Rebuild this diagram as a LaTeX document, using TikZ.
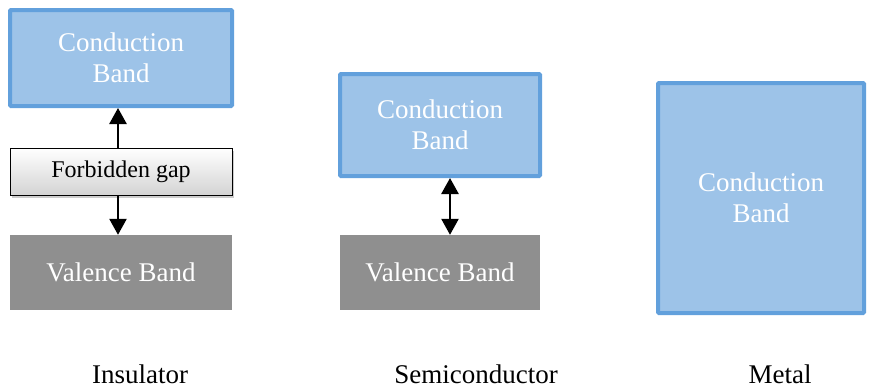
\documentclass[tikz,border=0pt]{standalone}
\usepackage{fontspec}
\setmainfont{Liberation Serif}
\usetikzlibrary{arrows.meta,shadows}
\definecolor{bandblue}{RGB}{157,195,232}
\definecolor{bandedge}{RGB}{98,160,220}
\definecolor{valgray}{RGB}{143,143,143}
\tikzset{
  cband/.style={draw=bandedge, line width=4pt, fill=bandblue, rounded corners=1pt,
    text=white, align=center, font=\fontsize{27}{31}\selectfont},
  vband/.style={fill=valgray, text=white, font=\fontsize{27}{31}\selectfont},
  gapbox/.style={draw=black, line width=1pt, top color=white, bottom color=black!17,
    drop shadow={shadow xshift=2pt, shadow yshift=-3pt, opacity=0.4},
    font=\fontsize{24}{28}\selectfont},
  gaparrow/.style={line width=2.5pt, -{Triangle[length=16pt,width=17pt]}},
  dblarrow/.style={line width=2.5pt, {Triangle[length=16pt,width=17pt]}-{Triangle[length=16pt,width=17pt]}},
  caption/.style={font=\fontsize{27}{31}\selectfont, inner sep=0pt, anchor=base}
}
\begin{document}
\begin{tikzpicture}[x=1pt,y=-1pt]
\useasboundingbox (0,0) rectangle (870,388);
% Insulator
\node[cband, minimum width=222pt, minimum height=96pt] (icb) at (121,58) {Conduction\\Band};
\node[vband, minimum width=222pt, minimum height=75pt] (ivb) at (121,272.5) {Valence Band};
\node[gapbox, minimum width=222pt, minimum height=47pt] (gap) at (121,171.5) {Forbidden gap};
\draw[gaparrow] (gap.north -| 118,0) -- (icb.south -| 118,0);
\draw[gaparrow] (gap.south -| 118,0) -- (ivb.north -| 118,0);
% Semiconductor
\node[cband, minimum width=200pt, minimum height=102pt] (scb) at (440,125) {Conduction\\Band};
\node[vband, minimum width=200pt, minimum height=75pt] (svb) at (440,272.5) {Valence Band};
\draw[dblarrow] (scb.south -| 450,0) -- (svb.north -| 450,0);
% Metal
\node[cband, minimum width=206pt, minimum height=230pt] (mcb) at (761,198) {Conduction\\Band};
% Captions
\node[caption] (ins) at (140,383) {Insulator};
\node[caption] (semi) at (476,383) {Semiconductor};
\node[caption] (met) at (780,383) {Metal};
\end{tikzpicture}
\end{document}
